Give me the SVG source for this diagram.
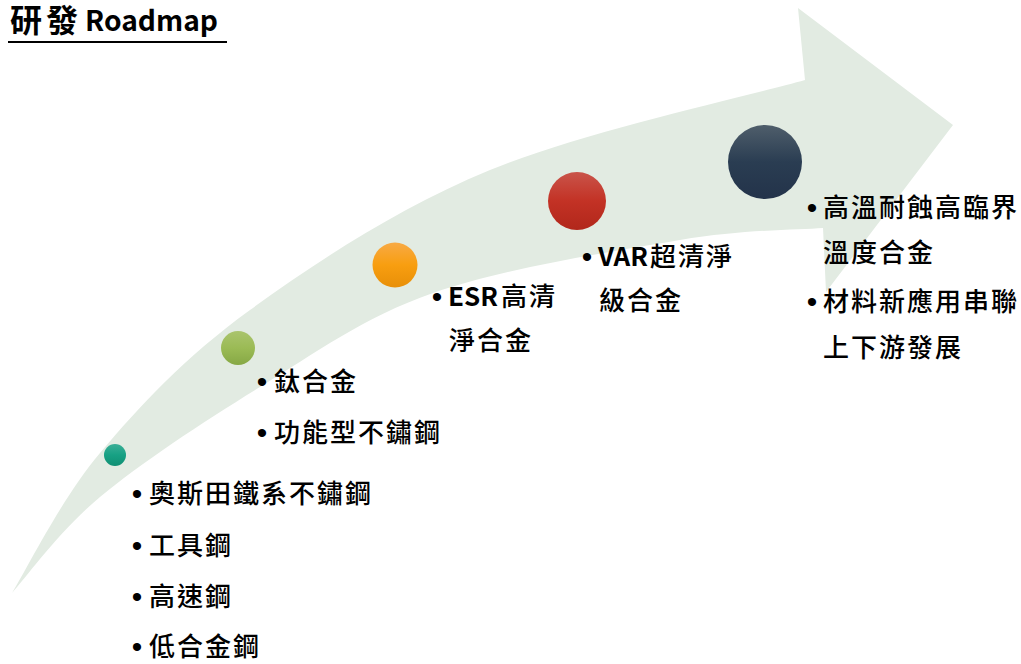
<svg xmlns="http://www.w3.org/2000/svg" width="1021" height="664" viewBox="0 0 1021 664">
<defs>
<linearGradient id="gTeal" x1="0" y1="0" x2="0" y2="1"><stop offset="0" stop-color="#3aae96"/><stop offset="0.5" stop-color="#17a184"/><stop offset="1" stop-color="#108f73"/></linearGradient>
<linearGradient id="gGreen" x1="0" y1="0" x2="0" y2="1"><stop offset="0" stop-color="#aac46e"/><stop offset="0.5" stop-color="#9bbb55"/><stop offset="1" stop-color="#86a845"/></linearGradient>
<linearGradient id="gOrange" x1="0" y1="0" x2="0" y2="1"><stop offset="0" stop-color="#f8aa45"/><stop offset="0.5" stop-color="#f89e10"/><stop offset="1" stop-color="#e88f08"/></linearGradient>
<linearGradient id="gRed" x1="0" y1="0" x2="0" y2="1"><stop offset="0" stop-color="#c9544a"/><stop offset="0.5" stop-color="#c33225"/><stop offset="1" stop-color="#b1271b"/></linearGradient>
<linearGradient id="gNavy" x1="0" y1="0" x2="0" y2="1"><stop offset="0" stop-color="#4f5e6b"/><stop offset="0.5" stop-color="#2a3d52"/><stop offset="1" stop-color="#23334a"/></linearGradient>
</defs>
<style>
.t{font-family:"Noto Sans CJK TC","Noto Sans CJK SC",sans-serif;font-size:26px;fill:#000;letter-spacing:2px;font-weight:500}
.b{font-family:"Liberation Sans",Arial,sans-serif;font-size:30px;fill:#000;text-anchor:middle}
.lat{font-weight:bold;letter-spacing:0}
.title{font-family:"Noto Sans CJK TC","Noto Sans CJK SC",sans-serif;font-weight:bold;fill:#000}
</style>
<rect width="1021" height="664" fill="#ffffff"/>
<g id="connectors">
<path id="arrow" fill="#e2ebe2" d="M12,593 C26.7,569.7 60.3,500.2 100,453 C139.7,405.8 185,357.2 250,310 C315,262.8 397.5,208.3 490,170 C582.5,131.7 752.5,95 805,80 L798,8 L953,125 L826,292 L823,228 C799.2,230 745,229.2 680,240 C615,250.8 503,268.5 433,293 C363,317.5 315.5,353 260,387 C204.5,421 141.3,462.7 100,497 C58.7,531.3 26.7,577 12,593 Z"/>
</g>
<g id="title">
<text class="title" x="10" y="32" font-size="32" letter-spacing="4">研發</text>
<text class="title" x="85" y="31" font-size="28" textLength="133" lengthAdjust="spacingAndGlyphs">Roadmap</text>
<rect x="8" y="41" width="219" height="2" fill="#000"/>
</g>
<g id="node1">
<circle cx="115" cy="455" r="11" fill="url(#gTeal)"/>
<text class="b" x="137" y="504">•</text><text class="t" x="149" y="503">奧斯田鐵系不鏽鋼</text>
<text class="b" x="137" y="556">•</text><text class="t" x="149" y="555">工具鋼</text>
<text class="b" x="137" y="607">•</text><text class="t" x="149" y="606">高速鋼</text>
<text class="b" x="137" y="657">•</text><text class="t" x="149" y="656">低合金鋼</text>
</g>
<g id="node2">
<circle cx="238" cy="348" r="17" fill="url(#gGreen)"/>
<text class="b" x="262" y="392">•</text><text class="t" x="274" y="391">鈦合金</text>
<text class="b" x="262" y="443">•</text><text class="t" x="274" y="442">功能型不鏽鋼</text>
</g>
<g id="node3">
<circle cx="395" cy="265" r="22.5" fill="url(#gOrange)"/>
<text class="b" x="437" y="307">•</text><text class="t" x="448" y="306"><tspan class="lat">ESR</tspan><tspan dx="3">高清</tspan></text>
<text class="t" x="449" y="350">淨合金</text>
</g>
<g id="node4">
<circle cx="577" cy="201" r="29" fill="url(#gRed)"/>
<text class="b" x="587" y="267">•</text><text class="t" x="598" y="266"><tspan class="lat">VAR</tspan><tspan dx="2">超清淨</tspan></text>
<text class="t" x="599" y="310">級合金</text>
</g>
<g id="node5">
<circle cx="765" cy="162" r="37" fill="url(#gNavy)"/>
<text class="b" x="812" y="218">•</text><text class="t" x="823" y="217">高溫耐蝕高臨界</text>
<text class="t" x="823" y="262">溫度合金</text>
<text class="b" x="812" y="312">•</text><text class="t" x="823" y="311">材料新應用串聯</text>
<text class="t" x="823" y="357">上下游發展</text>
</g>
</svg>
